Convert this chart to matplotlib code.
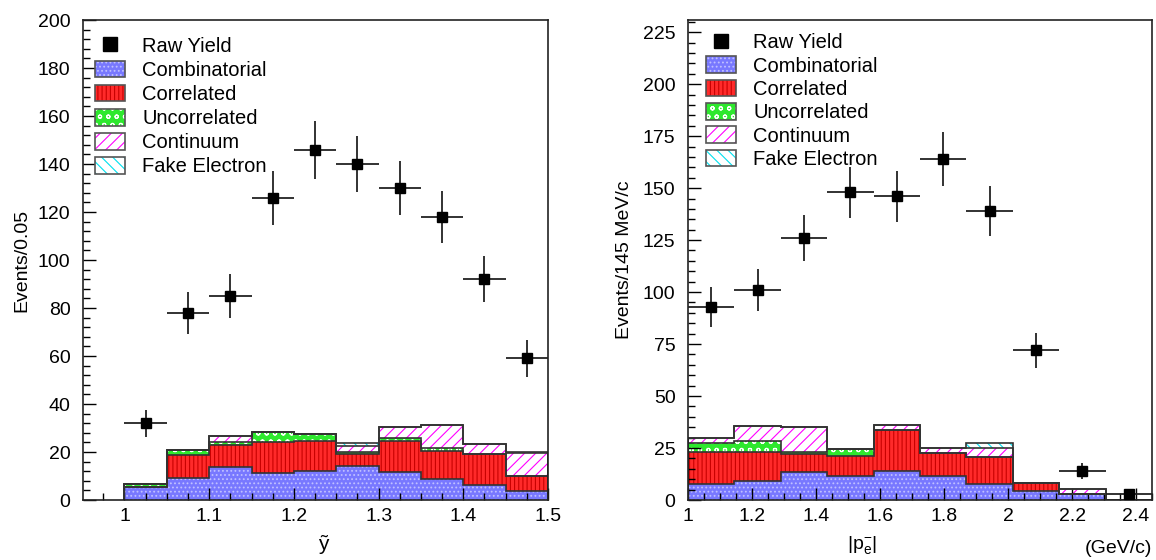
import numpy as np
import matplotlib
matplotlib.use('Agg')
import matplotlib.pyplot as plt
from matplotlib.patches import Patch
from matplotlib.lines import Line2D
from matplotlib.legend_handler import HandlerTuple
from matplotlib.ticker import MultipleLocator

plt.rcParams['font.family'] = ['Liberation Sans', 'DejaVu Sans']
plt.rcParams['mathtext.default'] = 'regular'
plt.rcParams['hatch.linewidth'] = 0.8

# left panel: y-tilde
y_edges = [1.0, 1.05, 1.1, 1.15, 1.2, 1.25, 1.3, 1.35, 1.4, 1.45, 1.5]
y_raw = [32, 78, 85, 126, 146, 140, 130, 118, 92, 59]
y_raw_err = [5.7, 8.8, 9.2, 11.2, 12.1, 11.8, 11.4, 10.9, 9.6, 7.7]
y_comb = [5.5, 9.0, 13.6, 11.1, 12.2, 14.3, 11.8, 8.8, 6.2, 3.9]
y_corr = [0.0, 9.7, 9.5, 12.9, 12.5, 4.9, 12.9, 11.8, 12.9, 6.0]
y_uncorr = [1.2, 2.0, 1.2, 4.5, 2.7, 0.7, 1.0, 0.9, 0.0, 0.0]
y_cont = [0.0, 0.0, 2.5, 0.0, 0.0, 2.5, 4.6, 9.7, 4.4, 9.5]
y_fake = [0.0, 0.0, 0.0, 0.0, 0.0, 1.3, 0.0, 0.0, 0.0, 0.5]

# right panel: electron momentum
p_edges = [1.0, 1.145, 1.29, 1.435, 1.58, 1.725, 1.87, 2.015, 2.16, 2.305, 2.45]
p_raw = [93, 101, 126, 148, 146, 164, 139, 72, 14, 3]
p_raw_err = [9.6, 10.0, 11.2, 12.2, 12.1, 12.8, 11.8, 8.5, 3.7, 1.7]
p_comb = [7.5, 9.3, 13.6, 11.7, 13.9, 11.7, 7.5, 4.3, 2.7, 0.0]
p_corr = [15.4, 13.6, 8.3, 9.5, 19.7, 10.7, 13.0, 4.0, 0.0, 0.0]
p_uncorr = [4.7, 5.6, 1.0, 3.3, 0.0, 0.0, 0.0, 0.0, 0.0, 0.0]
p_cont = [2.0, 7.2, 12.0, 0.0, 2.4, 2.4, 4.7, 0.0, 2.4, 0.0]
p_fake = [0.0, 0.0, 0.0, 0.0, 0.0, 0.0, 2.4, 0.0, 0.0, 0.0]

labels = ['Combinatorial', 'Correlated', 'Uncorrelated', 'Continuum', 'Fake Electron']
faces = ['#7878ff', '#ff2a2a', '#2ee82e', 'white', 'white']
hatch_cols = ['#c0c0ff', '#c80000', 'white', '#ff00ff', '#00e0ee']
hatches = ['....', '||||', 'oo', '///', '\\\\\\']
outline = '#333333'


def draw_panel(ax, edges, comps, raw, raw_err):
    edges = np.array(edges)
    base = np.zeros(len(edges) - 1)
    tops = []
    for vals, fc, hc, h in zip(comps, faces, hatch_cols, hatches):
        top = base + np.array(vals)
        ax.stairs(top, edges, baseline=base, fill=True, facecolor=fc, linewidth=0, zorder=1)
        ax.stairs(top, edges, baseline=base, fill=True, facecolor='none', edgecolor=hc,
                  hatch=h, linewidth=0, zorder=1.5)
        tops.append(top)
        base = top
    for top in tops:
        ax.stairs(top, edges, baseline=0, color=outline, linewidth=1.2, zorder=2)
    centers = (edges[:-1] + edges[1:]) / 2
    halfw = (edges[1:] - edges[:-1]) / 2
    ax.errorbar(centers, raw, xerr=halfw, yerr=raw_err, fmt='s', color='black',
                ecolor='#222222', markersize=7, elinewidth=1.3, capsize=0, zorder=5)


def legend_handles():
    hs = [Line2D([], [], marker='s', color='black', linestyle='none', markersize=9.5)]
    for fc, hc, h in zip(faces, hatch_cols, hatches):
        hs.append((Patch(facecolor=fc, edgecolor='none', linewidth=0),
                   Patch(facecolor='none', edgecolor=hc, hatch=h, linewidth=0),
                   Patch(facecolor='none', edgecolor='#555555', linewidth=1.2)))
    return hs


def style_axes(ax):
    ax.tick_params(which='both', direction='in', top=False, right=False,
                   labelsize=14, width=1)
    ax.tick_params(axis='y', pad=9)
    ax.tick_params(axis='x', pad=6)
    ax.tick_params(which='major', length=9)
    ax.tick_params(which='minor', length=5)
    for s in ax.spines.values():
        s.set_linewidth(1.2)
        s.set_color('#222222')


fig = plt.figure(figsize=(11.56, 5.6), dpi=100)
ax1 = fig.add_axes([0.0718, 0.1071, 0.4022, 0.857])
ax2 = fig.add_axes([0.5952, 0.1071, 0.4014, 0.857])

draw_panel(ax1, y_edges, [y_comb, y_corr, y_uncorr, y_cont, y_fake], y_raw, y_raw_err)
draw_panel(ax2, p_edges, [p_comb, p_corr, p_uncorr, p_cont, p_fake], p_raw, p_raw_err)

ax1.set_xlim(0.951, 1.5)
ax1.set_ylim(0, 200)
ax1.xaxis.set_major_locator(MultipleLocator(0.1))
ax1.xaxis.set_minor_locator(MultipleLocator(0.025))
ax1.yaxis.set_major_locator(MultipleLocator(20))
ax1.yaxis.set_minor_locator(MultipleLocator(4))
ax1.set_xticks([1.0, 1.1, 1.2, 1.3, 1.4, 1.5], ['1', '1.1', '1.2', '1.3', '1.4', '1.5'])
style_axes(ax1)
ax1.set_ylabel('Events/0.05', fontsize=14)
ax1.yaxis.set_label_coords(-0.114, 0.5)
ax1.set_xlabel('ỹ', fontsize=15)
ax1.xaxis.set_label_coords(0.516, -0.072)

ax2.set_xlim(1.0, 2.45)
ax2.set_ylim(0, 230.8)
ax2.xaxis.set_major_locator(MultipleLocator(0.2))
ax2.xaxis.set_minor_locator(MultipleLocator(0.05))
ax2.yaxis.set_major_locator(MultipleLocator(25))
ax2.yaxis.set_minor_locator(MultipleLocator(5))
ax2.set_xticks([1.0, 1.2, 1.4, 1.6, 1.8, 2.0, 2.2, 2.4], ['1', '1.2', '1.4', '1.6', '1.8', '2', '2.2', '2.4'])
style_axes(ax2)
ax2.set_ylabel('Events/145 MeV/c', fontsize=14)
ax2.yaxis.set_label_coords(-0.118, 0.5)
ax2.set_xlabel('$|p_{e}^{-}|$', fontsize=14)
ax2.xaxis.set_label_coords(0.375, -0.07)
ax2.text(1.0, -0.102, '(GeV/c)', transform=ax2.transAxes, ha='right', va='center', fontsize=14)

for ax, anchor, spacing in ((ax1, (0.026, 0.966), 0.24), (ax2, (0.039, 0.973), 0.2)):
    ax.legend(legend_handles(), ['Raw Yield'] + labels,
              handler_map={tuple: HandlerTuple(ndivide=1)},
              loc='upper left', bbox_to_anchor=anchor, frameon=False,
              fontsize=14.5, handlelength=1.5, handleheight=0.9,
              labelspacing=spacing, handletextpad=0.85, borderpad=0, borderaxespad=0)

fig.savefig('out.png', dpi=100)
